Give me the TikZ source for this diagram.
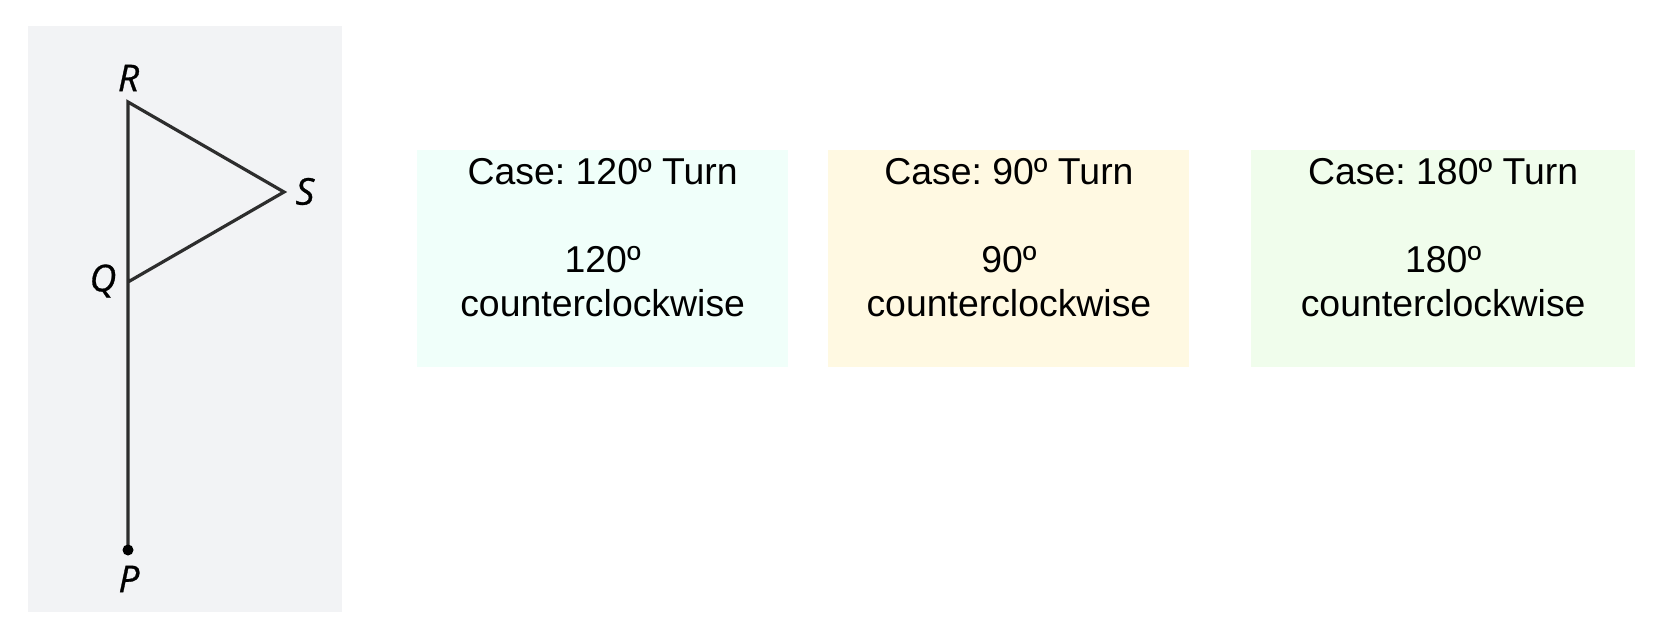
\documentclass[tikz,border=0pt]{standalone}
\usepackage{fontspec}
\setmainfont{Liberation Sans}
\newfontfamily\labelfont[FakeBold=0.8]{Open Sans}
\frenchspacing
\begin{document}
\begin{tikzpicture}[x=0.5pt,y=-0.5pt,
  flagline/.style={draw=flagdark, line width=1.6pt, line cap=round, line join=miter},
  ptlabel/.style={font=\labelfont\itshape\fontsize{18.5}{20}\selectfont, text=black, inner sep=0pt},
  casebox/.style={draw=none, inner sep=0pt, anchor=north west},
  casetext/.style={font=\fontsize{18.7}{22}\selectfont, align=center, anchor=north, inner sep=0pt, text=black}
]
\definecolor{panelgray}{RGB}{242,243,245}
\definecolor{flagdark}{RGB}{45,45,45}
\definecolor{boxcyan}{RGB}{240,255,250}
\definecolor{boxyellow}{RGB}{255,249,226}
\definecolor{boxgreen}{RGB}{240,253,236}
\useasboundingbox (0,0) rectangle (1654,630);
\fill[white] (0,0) rectangle (1654,630);
% flag panel
\fill[panelgray] (28,26) rectangle (342,612);
\coordinate (R) at (128,102);
\coordinate (S) at (284,192);
\coordinate (Q) at (128,282);
\coordinate (P) at (128,550);
\draw[flagline] (P) -- (R) -- (S) -- (Q);
\fill[black] (P) circle (5.5);
\node[ptlabel] (Rl) at (128.5,78) {R};
\node[ptlabel] (Sl) at (305,191.5) {S};
\node[ptlabel] (Ql) at (103,281) {Q};
\node[ptlabel] (Pl) at (129,579) {P};
% case boxes
\node[casebox, fill=boxcyan, minimum width=371.5*0.5pt, minimum height=217*0.5pt] (b1) at (416.5,150) {};
\node[casebox, fill=boxyellow, minimum width=361*0.5pt, minimum height=217*0.5pt] (b2) at (828,150) {};
\node[casebox, fill=boxgreen, minimum width=383.5*0.5pt, minimum height=217*0.5pt] (b3) at (1251,150) {};
\node[casetext] (t1) at ([yshift=-4pt]b1.north) {Case: 120º Turn\\[22pt]120º\\counterclockwise};
\node[casetext] (t2) at ([yshift=-4pt]b2.north) {Case: 90º Turn\\[22pt]90º\\counterclockwise};
\node[casetext] (t3) at ([yshift=-4pt]b3.north) {Case: 180º Turn\\[22pt]180º\\counterclockwise};
\end{tikzpicture}
\end{document}
